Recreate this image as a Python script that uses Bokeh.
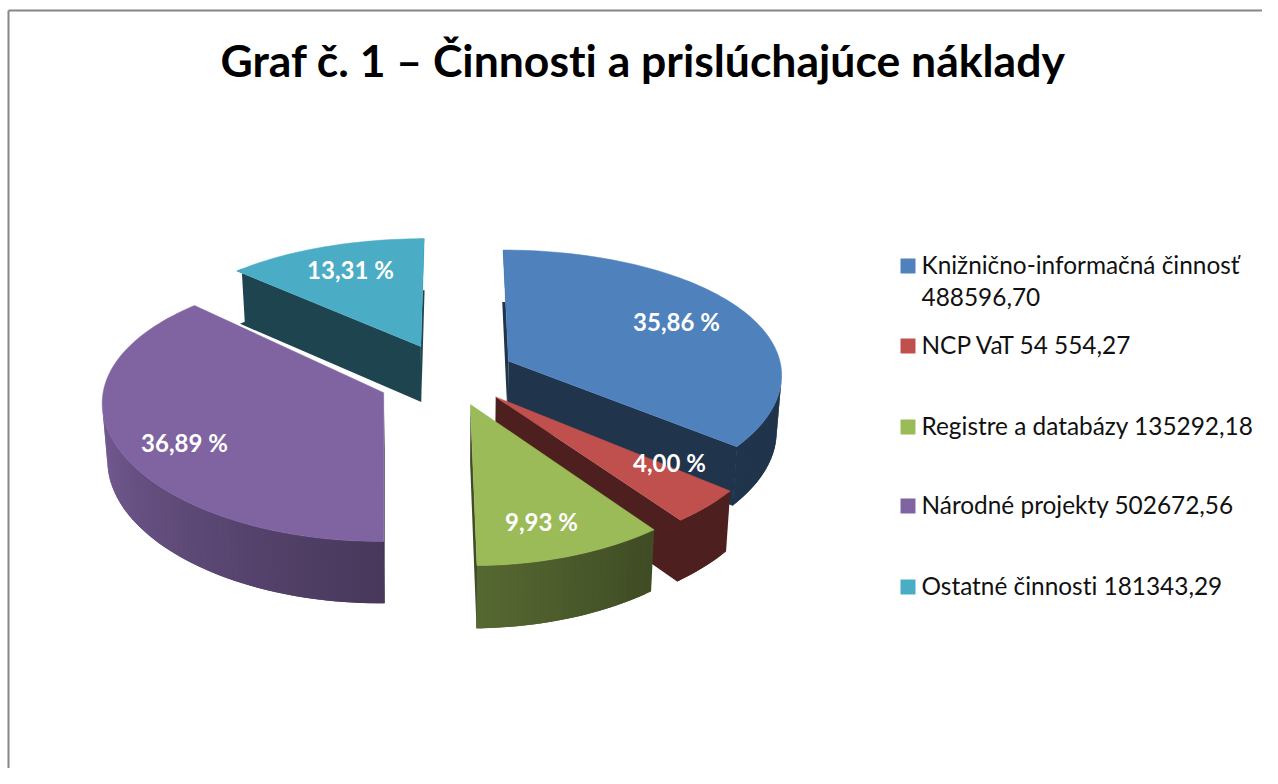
import numpy as np
from bokeh.core.properties import value
from bokeh.embed import file_html
from bokeh.models import ColumnDataSource, Range1d
from bokeh.plotting import figure
from bokeh.resources import INLINE

# ---- chart data ----
TITLE = "Graf č. 1 – Činnosti a prislúchajúce náklady"
CATEGORIES = ["Knižnično-informačná činnosť", "NCP VaT", "Registre a databázy", "Národné projekty", "Ostatné činnosti"]
VALUES = [488596.70, 54554.27, 135292.18, 502672.56, 181343.29]
VALUE_LABELS = ["488596,70", "54 554,27", "135292,18", "502672,56", "181343,29"]
COLORS = ["#4f81bd", "#c0504d", "#9bbb59", "#8064a2", "#4bacc6"]

# ---- layout / 3D style ----
W, H = 1262, 768
CX, CY = 448.0, 373.0
RX, RY = 274.0, 129.0      # projected radii
PERSP_X, PERSP_Y, PERSP_D = 0.10, 0.14, 0.08   # perspective strength per screen direction
EXPLODE = 0.245            # slice explosion in radii
DEPTH = 56.5               # wall height in px
BOTTOM_SHRINK = 0.985      # the lower rim lies further from the viewer
SLICE_STRETCH = [1.0, 1.0, 1.0, 1.02, 1.0]
APEX_NUDGE = [(0, 1), (0, 0), (0, 0), (-3, 6), (-1, 1)]
DRAW_ORDER = [4, 0, 3, 1, 2]
LABEL_POS = [(676, 321), (669, 462), (541, 521), (184, 442), (350, 269)]
FONT = "Lato"


def top_bottom(x, y, apex_x=None, k=1.0, nudge=(0, 0)):
    sx = CX + RX * x / (1.0 - y * PERSP_X)
    sy = CY + RY * y / (1.0 - y * PERSP_Y)
    if apex_x is not None:
        sx = apex_x + (sx - apex_x) * k
    sx += nudge[0]
    sy += nudge[1]
    return (sx, sy), (CX + (sx - CX) * BOTTOM_SHRINK, sy + DEPTH / (1.0 - y * PERSP_D))


def shade(angle_deg):
    # brightness of the outer wall, from the dark right to the lit left
    return float(np.interp(angle_deg, [0, 143, 180, 270, 360], [0.40, 0.40, 0.56, 0.95, 0.95]))


def scaled(color, k):
    r, g, b = (int(color[i:i + 2], 16) for i in (1, 3, 5))
    return "#%02x%02x%02x" % (round(r * k), round(g * k), round(b * k))


def is_front(a_t, b_t, b_b, a_b):
    pts = [a_t, b_t, b_b, a_b]
    area = sum(pts[i][0] * pts[(i + 1) % 4][1] - pts[(i + 1) % 4][0] * pts[i][1] for i in range(4))
    return area < 0


total = sum(VALUES)
fractions = [v / total for v in VALUES]
edges = np.concatenate([[0.0], np.cumsum(fractions) * 360.0])

p = figure(width=W, height=H, output_backend="svg", toolbar_location=None,
           x_range=Range1d(0, W), y_range=Range1d(H, 0),
           min_border=0, outline_line_color=None, background_fill_color="white",
           border_fill_color="white")
p.axis.visible = False
p.grid.visible = False

# chart frame: only its top and left edges are in view
p.segment(x0=[8, 8], y0=[10, 10], x1=[W, 8], y1=[10, H], line_color="#868686", line_width=2)

for i in DRAW_ORDER:
    a0, a1 = edges[i], edges[i + 1]
    mid = np.radians((a0 + a1) / 2)
    ex, ey = EXPLODE * np.sin(mid), -EXPLODE * np.cos(mid)
    angles = np.arange(a0, a1, 1.5).tolist() + [a1]
    rim = [(ex + np.sin(np.radians(a)), ey - np.cos(np.radians(a))) for a in angles]
    apex_t, apex_b = top_bottom(ex, ey, nudge=APEX_NUDGE[i])
    base_apex_x = top_bottom(ex, ey)[0][0]
    rim_tb = [top_bottom(q[0], q[1], base_apex_x, SLICE_STRETCH[i]) for q in rim]

    xs, ys, cols = [], [], []

    def add_poly(pts, col):
        xs.append([q[0] for q in pts])
        ys.append([q[1] for q in pts])
        cols.append(col)

    dark = scaled(COLORS[i], 0.40)
    # the cut walls reach one step under the rim wall, which is painted over them
    r0, r1 = rim_tb[0], rim_tb[1]
    if is_front(apex_t, r0[0], r0[1], apex_b):
        add_poly([apex_t, r0[0], r1[0], r1[1], r0[1], apex_b], dark)
    r0, r1 = rim_tb[-1], rim_tb[-2]
    if is_front(r0[0], apex_t, apex_b, r0[1]):
        add_poly([apex_t, r0[0], r1[0], r1[1], r0[1], apex_b], dark)
    n = len(rim_tb)
    for j in range(n - 1):
        # every band runs under the next one, so no seams show between them
        end = min(j + 2, n - 1)
        if is_front(rim_tb[j][0], rim_tb[j + 1][0], rim_tb[j + 1][1], rim_tb[j][1]):
            add_poly([rim_tb[j][0], rim_tb[end][0], rim_tb[end][1], rim_tb[j][1]],
                     scaled(COLORS[i], shade((angles[j] + angles[j + 1]) / 2)))

    if xs:
        p.patches(xs="xs", ys="ys", fill_color="c", line_color=None,
                  source=ColumnDataSource(dict(xs=xs, ys=ys, c=cols)))

    top_x = [apex_t[0]] + [q[0][0] for q in rim_tb]
    top_y = [apex_t[1]] + [q[0][1] for q in rim_tb]
    p.patch(top_x, top_y, fill_color=COLORS[i], line_color=COLORS[i], line_width=0.5)

# percentage labels, computed from the values
pct = [f"{100 * f:.2f}".replace(".", ",") + " %" for f in fractions]
p.text(x=[q[0] for q in LABEL_POS], y=[q[1] for q in LABEL_POS], text=pct,
       text_font=value(FONT), text_font_style="bold", text_font_size="24px",
       text_color="white", text_align="center", text_baseline="middle")

# title
p.text(x=[643], y=[58.5], text=[TITLE], text_font=value(FONT), text_font_style="bold",
       text_font_size="44.5px", text_color="black", text_align="center", text_baseline="alphabetic")

# legend
ROW_Y = [265.5, 345.5, 426.5, 505.5, 586.5]
p.scatter(x=[907.5] * 5, y=ROW_Y, marker="square", size=15, fill_color=COLORS, line_color=None)
lx, ly, lt = [], [], []
for i, (c, v, y) in enumerate(zip(CATEGORIES, VALUE_LABELS, ROW_Y)):
    if i == 0:
        lx += [921, 921]; ly += [y - 1.5, y + 30.5]; lt += [c, v]
    else:
        lx.append(921); ly.append(y - 1.5); lt.append(f"{c} {v}")
p.text(x=lx, y=ly, text=lt, text_font=value(FONT), text_font_size="24.4px", text_color="#111111",
       text_align="left", text_baseline="alphabetic")

html = file_html(p, INLINE).replace("<head>", "<head><style>body{font-variant-ligatures:none}</style>", 1)
open("out.html", "w").write(html)
